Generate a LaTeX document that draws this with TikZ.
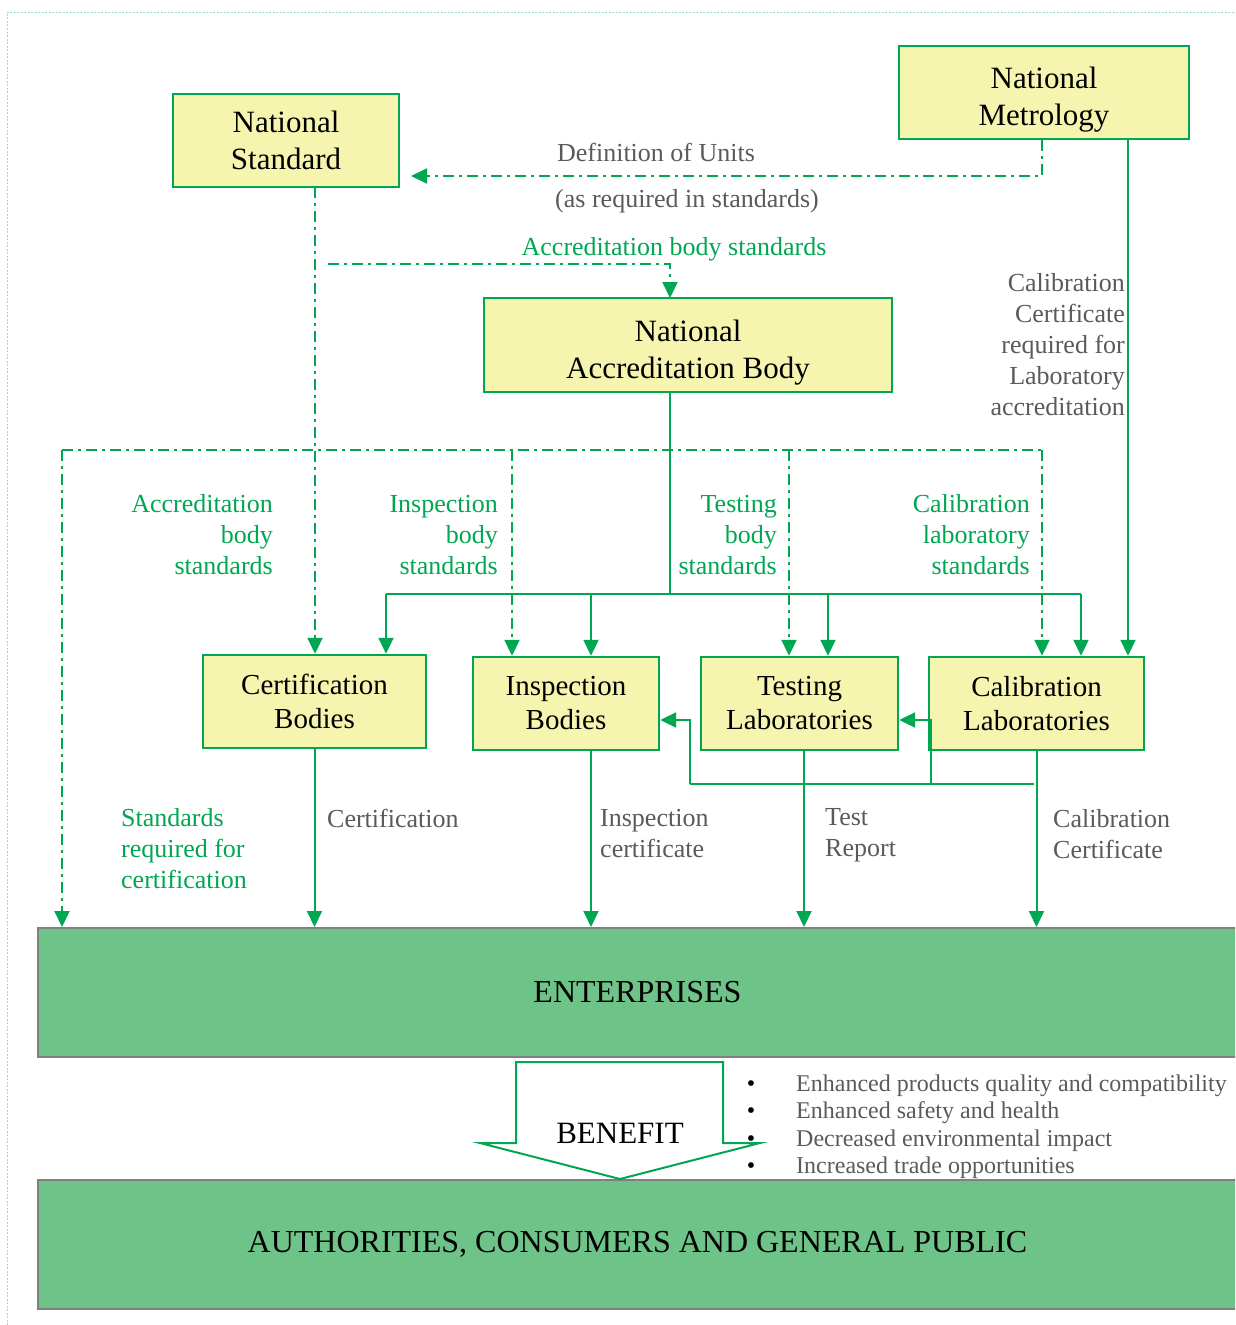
\documentclass[tikz,border=0pt]{standalone}
\usepackage{fontspec}
\setmainfont{Liberation Serif}
\usetikzlibrary{arrows.meta}
\definecolor{lnGreen}{RGB}{0,166,81}
\definecolor{boxFill}{RGB}{245,245,176}
\definecolor{bigFill}{RGB}{110,195,136}
\definecolor{bigEdge}{RGB}{128,128,128}
\definecolor{txtGray}{RGB}{90,90,90}
\definecolor{frameGreen}{RGB}{150,225,190}
\newcommand\fBox{\fontsize{31}{37}\selectfont}
\newcommand\fBig{\fontsize{32}{37}\selectfont}
\newcommand\fSub{\fontsize{29}{34}\selectfont}
\newcommand\fLab{\fontsize{26}{31}\selectfont}
\newcommand\fBul{\fontsize{24}{27.5}\selectfont}
% two centred lines, set a little below the node centre
\newcommand\lowtwo[2]{\raisebox{-13.5pt}[0pt][0pt]{\begin{tabular}{@{}c@{}}#1\\#2\end{tabular}}}
\tikzset{
  ybox/.style={draw=lnGreen, line width=2.4pt, fill=boxFill, align=center, inner sep=0pt},
  bigbox/.style={draw=bigEdge, line width=2pt, fill=bigFill, inner sep=0pt, font=\fBig},
  sl/.style={draw=lnGreen, line width=2pt},
  dd/.style={draw=lnGreen, line width=2pt, dash pattern=on 11pt off 5pt on 3pt off 5pt},
  arr/.style={-{Triangle[length=16pt,width=15pt]}},
  glab/.style={text=lnGreen, font=\fLab, inner sep=0pt},
  klab/.style={text=txtGray, font=\fLab, inner sep=0pt},
}
\begin{document}
\begin{tikzpicture}[x=1pt,y=-1pt]
\useasboundingbox (0,0) rectangle (1235,1325);
\clip (0,0) rectangle (1235,1325);

% outer frame
\draw[frameGreen, line width=1pt, dash pattern=on 2pt off 1.5pt] (7,1325) -- (7,12) -- (1240,12);

% boxes
\node[ybox, minimum width=226pt, minimum height=93pt, font=\fBox] (ns) at (286,140.5) {National\\Standard};
\node[ybox, minimum width=290pt, minimum height=93pt, font=\fBox] (nm) at (1044,92.5) {\lowtwo{National}{Metrology}};
\node[ybox, minimum width=408pt, minimum height=94pt, font=\fBox] (nab) at (688,345) {\lowtwo{National}{Accreditation Body}};
\node[ybox, minimum width=223pt, minimum height=93pt, font=\fSub] (cb) at (314.5,701.5) {Certification\\Bodies};
\node[ybox, minimum width=186pt, minimum height=93pt, font=\fSub] (ib) at (566,703.5) {Inspection\\Bodies};
\node[ybox, minimum width=197pt, minimum height=93pt, font=\fSub] (tl) at (799.5,703.5) {Testing\\Laboratories};
\node[ybox, minimum width=215pt, minimum height=93pt, font=\fSub] (cl) at (1036.5,703.5) {Calibration\\Laboratories};
\node[bigbox, minimum width=1199pt, minimum height=129pt] (ent) at (637.5,992.5) {ENTERPRISES};
\node[bigbox, minimum width=1199pt, minimum height=129pt] (pub) at (637.5,1244.5) {AUTHORITIES, CONSUMERS AND GENERAL PUBLIC};

% junction points
\coordinate (du) at (1042,176);
\coordinate (duEnd) at (411,176);
\coordinate (abS) at (328,264);
\coordinate (abT) at (670,264);
\coordinate (abE) at (670,298);
\coordinate (d1) at (62,450);
\coordinate (d2) at (512,450);
\coordinate (d3) at (789,450);
\coordinate (d4) at (1042,450);
\coordinate (nsx) at (315,187);
\coordinate (nabx) at (670,392);
\coordinate (bus) at (670,594);
\coordinate (b1) at (386,594);
\coordinate (b2) at (591,594);
\coordinate (b3) at (828,594);
\coordinate (b4) at (1081,594);
\coordinate (mx) at (1128,139);
\coordinate (fb0) at (1034,784);
\coordinate (fb1) at (931,784);
\coordinate (fb2) at (690,784);
\coordinate (fbY) at (0,720);
\coordinate (tx) at (804,750);
\coordinate (ix) at (591,750);

% definition of units
\draw[dd, arr] (nm.south -| du) -- (du) -- (duEnd);
% standards from the national standard
\draw[dd, arr] (nsx) -- (nsx |- cb.north);
\draw[dd, arr] (abS) -- (abT) -- (abE);
\draw[dd] (d1) -- (d4);
\draw[dd, arr] (d1) -- (d1 |- ent.north);
\draw[dd, arr] (d2) -- (d2 |- ib.north);
\draw[dd, arr] (d3) -- (d3 |- tl.north);
\draw[dd, arr] (d4) -- (d4 |- cl.north);

% accreditation
\draw[sl] (nabx) -- (bus);
\draw[sl] (b1) -- (b4);
\draw[sl, arr] (b1) -- (b1 |- cb.north);
\draw[sl, arr] (b2) -- (b2 |- ib.north);
\draw[sl, arr] (b3) -- (b3 |- tl.north);
\draw[sl, arr] (b4) -- (b4 |- cl.north);

% calibration certificates
\draw[sl, arr] (mx) -- (mx |- cl.north);
\draw[sl] (fb0) -- (fb2);
\draw[sl, arr] (fb2) -- (fb2 |- fbY) -- (fbY -| ib.east);
\draw[sl, arr] (fb1) -- (fb1 |- fbY) -- (fbY -| tl.east);

% services to enterprises
\draw[sl, arr] (cb.south) -- (cb.south |- ent.north);
\draw[sl, arr] (ix) -- (ix |- ent.north);
\draw[sl, arr] (tx) -- (tx |- ent.north);
\draw[sl, arr] (cl.south) -- (cl.south |- ent.north);

% labels
\node[klab] (lDef) at (656,152) {Definition of Units};
\node[klab] (lReq) at (687,201) {(as required in standards)};
\node[glab] (lAcc) at (674,249) {Accreditation body standards};
\node[klab, align=right, anchor=east] (lCal) at (1125,345) {Calibration\\Certificate\\required for\\Laboratory\\accreditation};
\node[glab, align=right, anchor=east] (lA) at (273,535) {Accreditation\\body\\standards};
\node[glab, align=right, anchor=east] (lI) at (498,535) {Inspection\\body\\standards};
\node[glab, align=right, anchor=east] (lT) at (777,535) {Testing\\body\\standards};
\node[glab, align=right, anchor=east] (lC) at (1030,535) {Calibration\\laboratory\\standards};
\node[glab, align=left, anchor=west] (lS) at (121,849) {Standards\\required for\\certification};
\node[klab, anchor=west] (lCe) at (327,818) {Certification};
\node[klab, align=left, anchor=west] (lIc) at (600,834) {Inspection\\certificate};
\node[klab, align=left, anchor=west] (lTr) at (825,835) {Test\\Report};
\node[klab, align=left, anchor=west] (lCc) at (1053,834) {Calibration\\Certificate};

% benefit arrow
\draw[lnGreen, line width=2pt, fill=white, line join=miter]
  (516,1062) -- (723,1062) -- (723,1143) -- (760,1143) -- (620,1179) -- (480,1143) -- (516,1143) -- cycle;
\node[font=\fBox, inner sep=0pt] (ben) at (620,1133) {BENEFIT};

% benefits list
\foreach \yy/\tt [count=\i] in {1086/Enhanced products quality and compatibility,
                                1113/Enhanced safety and health,
                                1141/Decreased environmental impact,
                                1168/Increased trade opportunities}{
  \node[font=\fBul, inner sep=0pt] (bu\i) at (751,\yy) {•};
  \node[font=\fBul, text=txtGray, anchor=west, inner sep=0pt] (bt\i) at (796,\yy) {\tt};
}
\end{tikzpicture}
\end{document}
